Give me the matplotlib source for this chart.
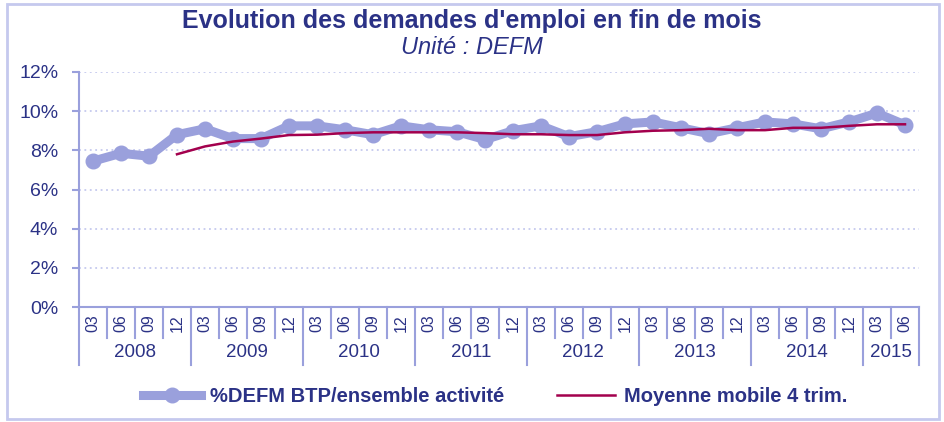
import matplotlib.pyplot as plt
from matplotlib.lines import Line2D
from matplotlib.patches import Rectangle

plt.rcParams['font.family'] = ['Liberation Sans', 'DejaVu Sans']

# données (part des DEFM BTP dans l'ensemble, %)
years = ['2008', '2009', '2010', '2011', '2012', '2013', '2014', '2015']
months = ['03', '06', '09', '12']
n_per_year = [4, 4, 4, 4, 4, 4, 4, 2]
defm_btp = [7.45, 7.85, 7.7, 8.8, 9.1, 8.6, 8.6, 9.25,
            9.25, 9.05, 8.8, 9.25, 9.05, 8.95, 8.55, 9.0,
            9.25, 8.7, 8.95, 9.35, 9.45, 9.15, 8.85, 9.15,
            9.45, 9.35, 9.1, 9.45, 9.9, 9.3]
moy_mobile = [None, None, None, 7.8, 8.2, 8.45, 8.6, 8.78,
              8.8, 8.88, 8.92, 8.92, 8.92, 8.92, 8.88, 8.82,
              8.82, 8.78, 8.78, 8.92, 9.0, 9.03, 9.1, 9.03,
              9.03, 9.15, 9.15, 9.25, 9.33, 9.33]

navy = '#2b3286'
lav = '#9aa0dc'
grid_c = '#c5c9ee'
red = '#a3004d'

labels = []
for y, n in zip(years, n_per_year):
    labels += months[:n]
x = list(range(len(labels)))

fig = plt.figure(figsize=(9.44, 4.22), dpi=100)
fig.patches.append(Rectangle((0.007, 0.008), 0.988, 0.982, transform=fig.transFigure,
                             fill=False, edgecolor=grid_c, linewidth=2))

ax = fig.add_axes([79 / 944, 1 - 307 / 422, (919 - 79) / 944, (307 - 72) / 422])
ax.set_xlim(-0.5, len(labels) - 0.5)
ax.set_ylim(0, 0.12)

ax.plot(x, [v / 100 for v in defm_btp], color=lav, linewidth=6.5,
        marker='o', markersize=10.5, solid_joinstyle='round', zorder=3)
xm = [i for i, v in zip(x, moy_mobile) if v is not None]
ym = [v / 100 for v in moy_mobile if v is not None]
ax.plot(xm, ym, color=red, linewidth=1.8, zorder=4)

ax.set_yticks([0, 0.02, 0.04, 0.06, 0.08, 0.10, 0.12])
ax.set_yticklabels(['0%', '2%', '4%', '6%', '8%', '10%', '12%'], fontsize=14, color=navy)
ax.tick_params(axis='y', length=5, color=lav, width=1.5, pad=10)
ax.set_xticks([])
for yv in [0.02, 0.04, 0.06, 0.08, 0.10, 0.12]:
    ax.axhline(yv, color=grid_c, linestyle=(0, (1, 2)), linewidth=1.3, zorder=1)

for s in ['top', 'right']:
    ax.spines[s].set_visible(False)
for s in ['left', 'bottom']:
    ax.spines[s].set_color(lav)
    ax.spines[s].set_linewidth(1.5)

# axe des catégories en deux niveaux
tr = ax.get_xaxis_transform()
for i, lab in enumerate(labels):
    ax.text(i, -0.068, lab, rotation=90, ha='center', va='center', fontsize=11.5,
            color=navy, transform=tr, clip_on=False)
pos = -0.5
for y, n in zip(years, n_per_year):
    for k in range(n):
        ax.plot([pos + k, pos + k], [0, -0.13 if k else -0.245], color=lav,
                linewidth=1.5, transform=tr, clip_on=False)
    ax.text(pos + n / 2, -0.195, y, ha='center', va='center', fontsize=13.5,
            color=navy, transform=tr, clip_on=False)
    pos += n
ax.plot([pos, pos], [0, -0.245], color=lav, linewidth=1.5, transform=tr, clip_on=False)

fig.text(0.5, 1 - 21 / 422, "Evolution des demandes d'emploi en fin de mois", ha='center',
         va='center', fontsize=18, fontweight='bold', color=navy)
fig.text(0.5, 1 - 47 / 422, 'Unité : DEFM', ha='center', va='center', fontsize=17,
         style='italic', color=navy)

handles = [Line2D([], [], color=lav, linewidth=6.5, marker='o', markersize=10.5),
           Line2D([], [], color=red, linewidth=1.8)]
fig.legend(handles, ['%DEFM BTP/ensemble activité', 'Moyenne mobile 4 trim.'],
           loc='center', bbox_to_anchor=(495 / 944, 1 - 397 / 422), ncol=2, frameon=False,
           handlelength=2.9, columnspacing=2.6, handletextpad=0.45,
           prop={'weight': 'bold', 'size': 14.5}, labelcolor=navy)

fig.savefig('out.png', dpi=100)
